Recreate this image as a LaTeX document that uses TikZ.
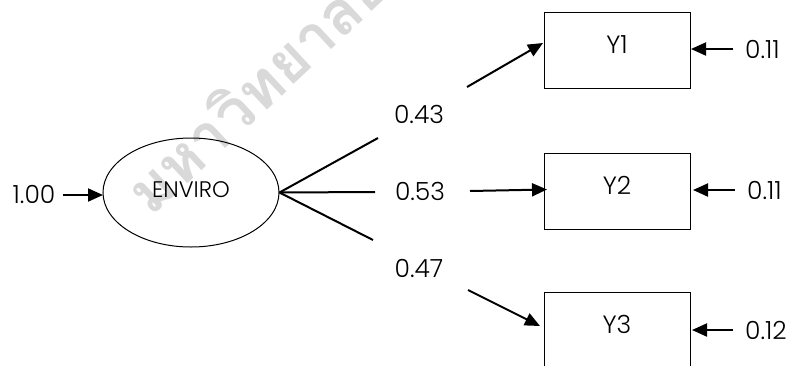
\documentclass[tikz,border=0pt]{standalone}
\usepackage{fontspec}
\IfFontExistsTF{Poppins Light}{\setmainfont{Poppins Light}}{\setmainfont{Poppins}}
\newfontfamily\thaifont[Script=Thai]{Loma}
\usetikzlibrary{arrows.meta,shapes.geometric,calc}
\begin{document}
\begin{tikzpicture}[x=1pt,y=-1pt,
  every node/.style={font=\fontsize{25}{29}\selectfont},
  lat/.style={ellipse,draw,line width=1pt,minimum width=176pt,minimum height=109pt,inner sep=0pt,text height=16pt,text depth=7pt,font=\fontsize{22.5}{26}\selectfont},
  obs/.style={rectangle,draw,line width=1pt,minimum width=146pt,minimum height=76pt,inner sep=0pt,text height=18pt,text depth=12pt},
  seg/.style={line width=2pt},
  arr/.style={line width=2pt,-{Triangle[length=15pt,width=13pt]}},
  num/.style={inner sep=0pt}]
\useasboundingbox (0,0) rectangle (793,365);
\clip (0,0) rectangle (793,365);
% watermark
\node[rotate=43,anchor=base west,text=black!15,inner sep=0pt,
  font=\thaifont\bfseries\fontsize{61}{63}\selectfont] (wm) at (151,218) {มหาวิทยาลัย};
% latent variable
\node[lat] (E) at (191,192.5) {ENVIRO};
% observed variables
\node[obs] (Y1) at (617,50) {Y1};
\node[obs] (Y2) at (617,191) {Y2};
\node[obs] (Y3) at (617,330) {Y3};
% loadings labels
\node[num] (l1) at (419,114) {0.43};
\node[num] (l2) at (420,191) {0.53};
\node[num] (l3) at (419,268) {0.47};
% error labels
\node[num,anchor=west] (e1) at (745,49) {0.11};
\node[num,anchor=west] (e2) at (747,190) {0.11};
\node[num,anchor=west] (e3) at (745,330) {0.12};
\node[num] (v) at (34,194) {1.00};
% coordinates
\coordinate (a1) at (378,138);
\coordinate (a2) at (375,192);
\coordinate (a3) at (373,240);
\coordinate (b1) at (467,87);
\coordinate (b2) at (470,191);
\coordinate (b3) at (468,290);
\coordinate (t1) at (543,43);
\coordinate (t2) at (547,189.5);
\coordinate (t3) at (540,326);
\coordinate (c1) at (733,49);
\coordinate (c2) at (735,190);
\coordinate (c3) at (733,330);
\coordinate (d1) at (691,49);
\coordinate (d2) at (693,190);
\coordinate (d3) at (692,330);
\coordinate (s0) at (63,195);
\coordinate (f0) at (103,195);
% connectors
\draw[seg] (E.east) -- (a1);
\draw[seg] (E.east) -- (a2);
\draw[seg] (E.east) -- (a3);
\draw[arr] (b1) -- (t1);
\draw[arr] (b2) -- (t2);
\draw[arr] (b3) -- (t3);
\draw[arr] (c1) -- (d1);
\draw[arr] (c2) -- (d2);
\draw[arr] (c3) -- (d3);
\draw[arr] (s0) -- (f0);
\end{tikzpicture}
\end{document}
